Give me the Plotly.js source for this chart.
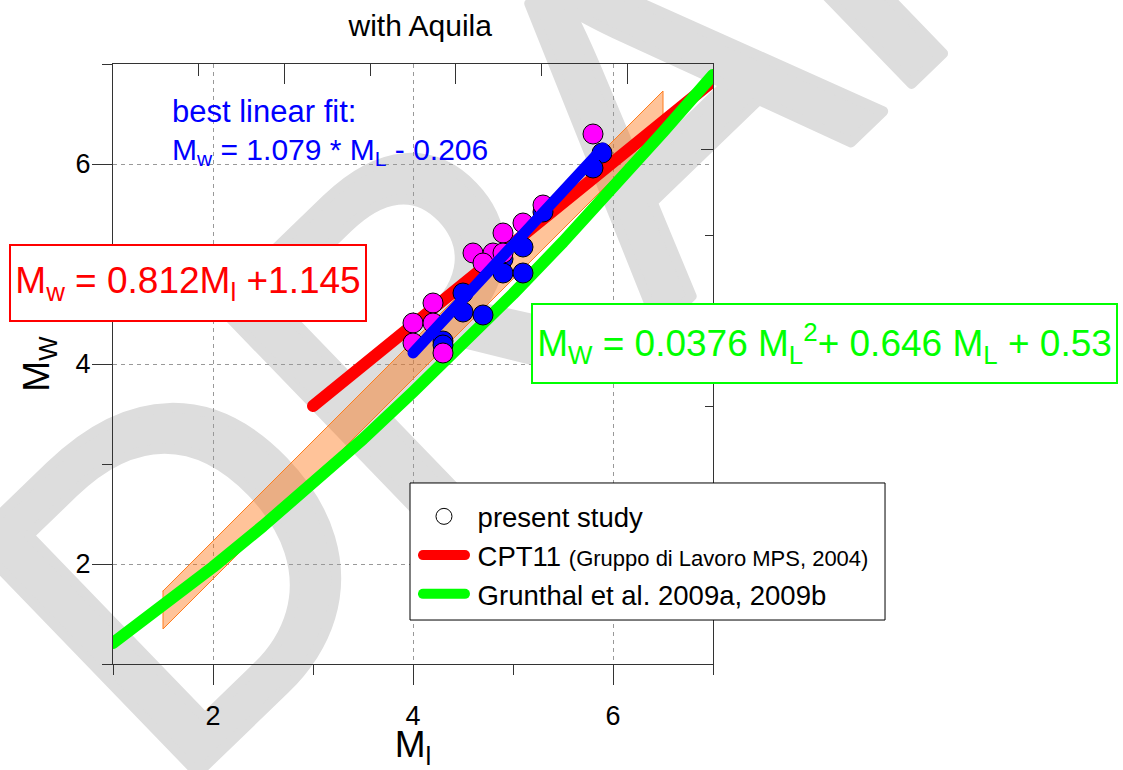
<!DOCTYPE html>
<html>
<head>
<meta charset="utf-8">
<script src="https://cdn.plot.ly/plotly-3.0.1.min.js"></script>
<style>
  html, body { margin: 0; padding: 0; background: #fff; }
  #wrap { position: relative; width: 1123px; height: 770px; overflow: hidden; }
  #wm { position: absolute; left: 0; top: 0; z-index: 0; }
  #chart { position: absolute; left: 0; top: 0; z-index: 1; }
  .scatterlayer .js-line { stroke-linecap: round; stroke-linejoin: round; }
  .legend .legendlines path { stroke-linecap: round; stroke-width: 10px !important; }
</style>
</head>
<body>
<div id="wrap">
  <svg id="wm" width="1123" height="770">
    <text transform="translate(170,800) rotate(-44)" font-family="Liberation Sans, Arial, sans-serif"
      font-size="470" fill="#dddddd" stroke="#dddddd" stroke-width="10" stroke-linejoin="round">DRAFT</text>
  </svg>
  <div id="chart"></div>
</div>
<script>
// ---- data ----
const bandMl = [1.5, 6.5, 6.5, 1.5, 1.5];
const bandMw = [1.73, 6.73, 6.35, 1.35, 1.73];

const cptMl = [3, 7];
const cptMw = [3.58, 6.83];

const grMl = [1, 1.5, 2, 2.5, 3, 3.5, 4, 4.5, 5, 5.5, 6, 6.5, 7];
const grMw = [1.21, 1.58, 1.97, 2.38, 2.81, 3.25, 3.72, 4.20, 4.70, 5.22, 5.76, 6.32, 6.89];

const blueMl = [5.89, 5.8, 5.3, 5.1, 4.9, 4.9, 5.1, 4.5, 4.5, 4.7, 4.3, 4.3];
const blueMw = [6.11, 5.96, 5.52, 5.17, 5.05, 4.91, 4.91, 4.71, 4.52, 4.49, 4.23, 4.19];

const pinkMl = [5.8, 5.3, 5.1, 4.9, 4.6, 4.8, 4.9, 4.7, 4.2, 4.0, 4.2, 4.0, 4.3];
const pinkMw = [6.30, 5.59, 5.41, 5.31, 5.11, 5.11, 5.11, 5.01, 4.61, 4.41, 4.41, 4.21, 4.11];

const fitMl = [4.0, 5.9];
const fitMw = [4.11, 6.16];

const xTicks = [2, 4, 6];
const yTicks = [2, 4, 6];

const FONT = 'Liberation Sans, Arial, sans-serif';
const NB = '\u00a0';

const traces = [
  { x: bandMl, y: bandMw, type: 'scatter', mode: 'lines', fill: 'toself',
    fillcolor: 'rgba(255,105,0,0.40)', line: { color: 'rgb(255,125,30)', width: 1 },
    showlegend: false, hoverinfo: 'skip' },
  { x: cptMl, y: cptMw, type: 'scatter', mode: 'lines',
    name: NB + 'CPT11 <span style="font-size:22px">(Gruppo di Lavoro MPS, 2004)</span>',
    line: { color: '#ff0000', width: 12 }, legendrank: 2, cliponaxis: false },
  { x: grMl, y: grMw, type: 'scatter', mode: 'lines',
    name: NB + 'Grunthal et al. 2009a, 2009b',
    line: { color: '#00ff00', width: 12 }, legendrank: 3, cliponaxis: false },
  { x: blueMl, y: blueMw, type: 'scatter', mode: 'markers', showlegend: false,
    marker: { color: '#0000ff', size: 20, line: { color: '#000', width: 1 } } },
  { x: pinkMl, y: pinkMw, type: 'scatter', mode: 'markers', showlegend: false,
    marker: { color: '#ff00ff', size: 20, line: { color: '#000', width: 1 } } },
  { x: fitMl, y: fitMw, type: 'scatter', mode: 'lines', showlegend: false,
    line: { color: '#0000ff', width: 11 } },
  { x: [null], y: [null], type: 'scatter', mode: 'markers', name: NB + 'present study',
    marker: { symbol: 'circle-open', color: '#000', size: 18, line: { width: 1 } }, legendrank: 1 },
  { x: [null], y: [null], type: 'scatter', mode: 'markers', xaxis: 'x2', yaxis: 'y2',
    showlegend: false, hoverinfo: 'skip' }
];

const axCommon = {
  ticks: 'outside', ticklen: 20, tickwidth: 1, tickcolor: '#333',
  showline: true, linecolor: '#333', linewidth: 1,
  showgrid: true, gridcolor: '#999', griddash: '4px,4px', gridwidth: 1,
  zeroline: false, tickfont: { size: 27, color: '#000' },
  minor: { dtick: 1, tick0: 1, ticks: 'outside', ticklen: 10, tickcolor: '#333', showgrid: false }
};

const layout = {
  width: 1123, height: 770,
  margin: { l: 113, r: 410, t: 64, b: 106 },
  paper_bgcolor: 'rgba(0,0,0,0)', plot_bgcolor: 'rgba(0,0,0,0)',
  font: { family: FONT, color: '#000' },
  title: { text: 'with Aquila', font: { size: 30, color: '#000' },
    xref: 'paper', x: 0.512, xanchor: 'center', yref: 'container', y: 0.967, yanchor: 'middle' },
  xaxis: Object.assign({}, axCommon, { range: [1, 7], tickvals: xTicks, ticklabelstandoff: 8,
    title: { text: 'M<sub>l</sub>', font: { size: 37 }, standoff: 14 } }),
  yaxis: Object.assign({}, axCommon, { range: [1, 7], tickvals: yTicks, ticklabelstandoff: -4,
    title: { text: 'M<sub>W</sub>', font: { size: 37 }, standoff: 14 } }),
  xaxis2: { overlaying: 'x', side: 'top', anchor: 'y2', range: [0, 7], dtick: 2, tick0: 0,
    ticks: 'inside', ticklen: 20, tickcolor: '#333', showticklabels: false,
    showline: true, linecolor: '#333', showgrid: false, zeroline: false,
    minor: { dtick: 1, ticks: 'inside', ticklen: 12, tickcolor: '#333', showgrid: false } },
  yaxis2: { overlaying: 'y', side: 'right', anchor: 'x2', range: [0, 7], dtick: 2, tick0: 0,
    ticks: 'inside', ticklen: 12, tickcolor: '#333', showticklabels: false,
    showline: true, linecolor: '#333', showgrid: false, zeroline: false,
    minor: { dtick: 1, ticks: 'inside', ticklen: 8, tickcolor: '#333', showgrid: false } },
  showlegend: true,
  legend: { x: 0.5083, y: 0.2867, xanchor: 'left', yanchor: 'top',
    bgcolor: 'rgba(0,0,0,0)', borderwidth: 0,
    font: { size: 27.5, color: '#000' }, itemwidth: 42 },
  shapes: [
    { type: 'rect', xref: 'paper', yref: 'paper', x0: 0.495, x1: 1.2867, y0: 0.0733, y1: 0.3017,
      fillcolor: '#fff', line: { color: '#000', width: 1 }, layer: 'above' }
  ],
  annotations: [
    { text: 'M<sub>w</sub> = 0.812M<sub>l</sub> +1.145', xref: 'paper', yref: 'paper',
      x: 0.125, y: 0.635, xanchor: 'center', yanchor: 'middle', showarrow: false,
      font: { size: 37, color: '#ff0000' }, bordercolor: '#ff0000', borderwidth: 2,
      bgcolor: '#fff', width: 354, height: 74, borderpad: 0 },
    { text: 'M<sub>W</sub> = 0.0376 M<sub>L</sub><sup>2</sup>+ 0.646 M<sub>L</sub> + 0.53',
      xref: 'paper', yref: 'paper', x: 1.185, y: 0.534, xanchor: 'center', yanchor: 'middle',
      showarrow: false, font: { size: 37, color: '#00ff00' }, bordercolor: '#00ff00',
      borderwidth: 2, bgcolor: '#fff', width: 583, height: 77, borderpad: 0 },
    { text: 'best linear fit:', xref: 'paper', yref: 'paper', x: 0.095, y: 0.92,
      xanchor: 'left', yanchor: 'middle', showarrow: false, font: { size: 31, color: '#0000ff' } },
    { text: 'M<sub>w</sub> = 1.079 * M<sub>L</sub> - 0.206', xref: 'paper', yref: 'paper',
      x: 0.095, y: 0.855, xanchor: 'left', yanchor: 'middle', showarrow: false,
      font: { size: 30, color: '#0000ff' } }
  ]
};

Plotly.newPlot('chart', traces, layout, { displayModeBar: false, staticPlot: true });
</script>
</body>
</html>
